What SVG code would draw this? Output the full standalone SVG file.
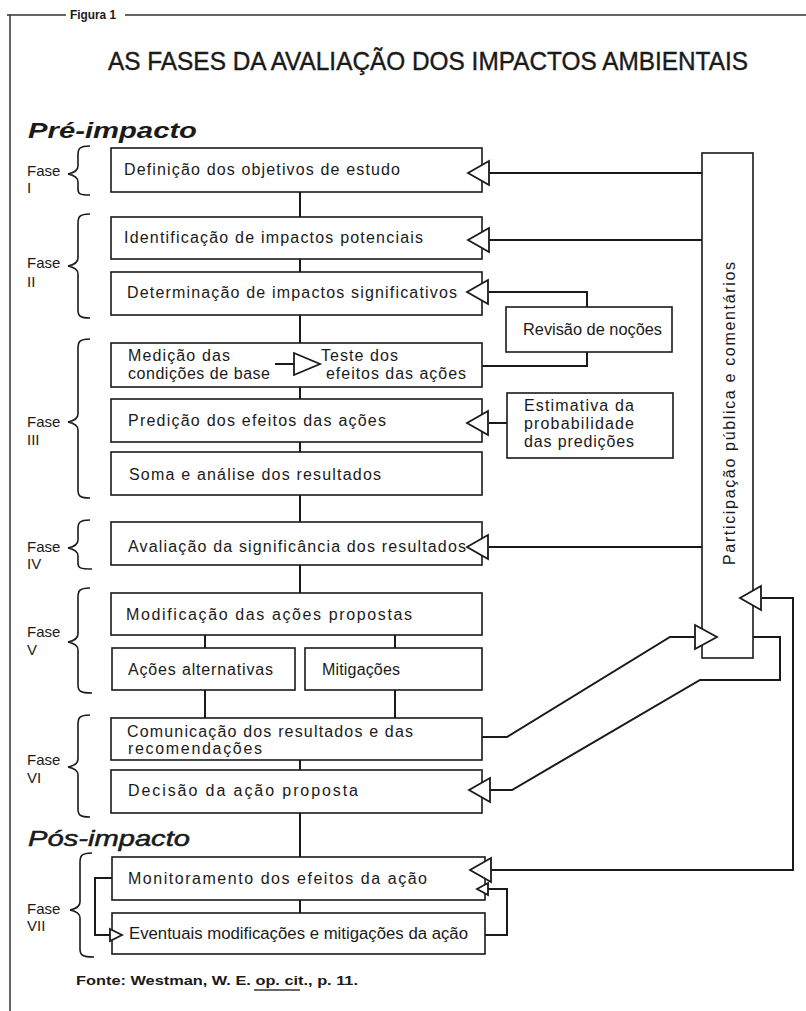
<svg xmlns="http://www.w3.org/2000/svg" xmlns:xlink="http://www.w3.org/1999/xlink" width="806" height="1011" viewBox="0 0 806 1011">
<style>
.box{fill:#fff;stroke:#1a1a1a;stroke-width:1.6}
.ln{fill:none;stroke:#1a1a1a;stroke-width:2}
.fr{fill:none;stroke:#333;stroke-width:1.5}
.ah{fill:#fff;stroke:#1a1a1a;stroke-width:1.8;stroke-linejoin:miter}
.br{fill:none;stroke:#1a1a1a;stroke-width:1.6}
.t{font-family:"Liberation Sans",Arial,sans-serif;font-size:16px;fill:#1a1a1a}
.f{font-family:"Liberation Sans",Arial,sans-serif;font-size:15px;fill:#1a1a1a}
.h{font-family:"Liberation Sans",Arial,sans-serif;font-size:22px;font-style:italic;font-weight:bold;fill:#1a1a1a}
.h2{font-family:"Liberation Sans",Arial,sans-serif;font-size:22px;font-style:italic;fill:#1a1a1a}
</style>
<defs>
<polygon id="aL" class="ah" points="0,0 21,-12 21,12"/>
<polygon id="aS" class="ah" points="0,0 11,-6 11,6"/>
</defs>

<g id="frame">
<path class="fr" d="M7,15 H66 M125,15 H806 M10,15 V1011"/>
<text x="70" y="19" font-family="Liberation Sans, Arial, sans-serif" font-size="12" font-weight="bold" fill="#1a1a1a" textLength="46" lengthAdjust="spacingAndGlyphs">Figura 1</text>
<text x="108" y="70" font-family="Liberation Sans, Arial, sans-serif" font-size="26" fill="#1a1a1a" stroke="#1a1a1a" stroke-width="0.4" textLength="640" lengthAdjust="spacingAndGlyphs">AS FASES DA AVALIAÇÃO DOS IMPACTOS AMBIENTAIS</text>
<text class="h" x="28" y="138" textLength="169" lengthAdjust="spacingAndGlyphs">Pré-impacto</text>
<text class="h2" x="28" y="846" stroke="#1a1a1a" stroke-width="0.5" textLength="162" lengthAdjust="spacingAndGlyphs">Pós-impacto</text>
<text x="76" y="985" font-family="Liberation Sans, Arial, sans-serif" font-size="13" font-weight="bold" fill="#1a1a1a" textLength="282" lengthAdjust="spacingAndGlyphs">Fonte: Westman, W. E. op. cit., p. 11.</text>
<path class="fr" d="M254,990 H300"/>
</g>

<g id="fases">
<g id="fase1"><text class="f" x="27" y="176">Fase</text><text class="f" x="27" y="193">I</text>
<path class="br" d="M90,146 C79,146 78,149 78,155 V166 Q78,172 68,174 Q78,176 78,182 V189 C78,194 80,195 90,195"/></g>
<g id="fase2"><text class="f" x="27" y="268">Fase</text><text class="f" x="27" y="287">II</text>
<path class="br" d="M90,214 C79,214 78,217 78,224 V258 Q78,264 68,266 Q78,268 78,274 V310 C78,316 80,318 90,318"/></g>
<g id="fase3"><text class="f" x="27" y="427">Fase</text><text class="f" x="27" y="445">III</text>
<path class="br" d="M90,339 C79,339 78,342 78,349 V414 Q78,420 68,422 Q78,424 78,430 V490 C78,496 80,498 90,498"/></g>
<g id="fase4"><text class="f" x="27" y="552">Fase</text><text class="f" x="27" y="569">IV</text>
<path class="br" d="M90,520 C79,520 78,523 78,529 V540 Q78,546 68,548 Q78,550 78,556 V563 C78,568 80,569 92,569"/></g>
<g id="fase5"><text class="f" x="27" y="637">Fase</text><text class="f" x="27" y="655">V</text>
<path class="br" d="M90,588 C79,588 78,591 78,598 V634 Q78,640 68,642 Q78,644 78,650 V685 C78,691 80,693 92,693"/></g>
<g id="fase6"><text class="f" x="27" y="765">Fase</text><text class="f" x="27" y="783">VI</text>
<path class="br" d="M90,715 C79,715 78,718 78,725 V759 Q78,765 68,767 Q78,769 78,775 V809 C78,815 80,817 90,817"/></g>
<g id="fase7"><text class="f" x="27" y="914">Fase</text><text class="f" x="27" y="931">VII</text>
<path class="br" d="M92,853 C81,853 80,856 80,863 V902 Q80,908 70,910 Q80,912 80,918 V949 C80,955 82,957 94,957"/></g>
</g>

<g id="n1"><rect class="box" x="111" y="148" width="371" height="44"/><text class="t" x="124" y="175" textLength="276" lengthAdjust="spacing">Definição dos objetivos de estudo</text></g>
<g id="n2"><rect class="box" x="111" y="217" width="371" height="42"/><text class="t" x="124" y="243" textLength="299" lengthAdjust="spacing">Identificação de impactos potenciais</text></g>
<g id="n3"><rect class="box" x="111" y="272" width="371" height="43"/><text class="t" x="127" y="298" textLength="330" lengthAdjust="spacing">Determinação de impactos significativos</text></g>
<g id="n4"><rect class="box" x="111" y="343" width="371" height="44"/>
<text class="t" x="128" y="361" textLength="102" lengthAdjust="spacing">Medição  das</text>
<text class="t" x="128" y="379" textLength="142" lengthAdjust="spacing">condições de base</text>
<text class="t" x="321" y="361" textLength="77" lengthAdjust="spacing">Teste dos</text>
<text class="t" x="326" y="379" textLength="140" lengthAdjust="spacing">efeitos das ações</text></g>
<g id="n5"><rect class="box" x="111" y="399" width="371" height="43"/><text class="t" x="128" y="426" textLength="258" lengthAdjust="spacing">Predição dos efeitos das ações</text></g>
<g id="n6"><rect class="box" x="111" y="452" width="371" height="43"/><text class="t" x="129" y="480" textLength="252" lengthAdjust="spacing">Soma e análise  dos resultados</text></g>
<g id="n7"><rect class="box" x="111" y="522" width="371" height="43"/><text class="t" x="128" y="552" textLength="338" lengthAdjust="spacing">Avaliação da significância dos resultados</text></g>
<g id="n8"><rect class="box" x="111" y="593" width="371" height="42"/><text class="t" x="126" y="620" textLength="286" lengthAdjust="spacing">Modificação das ações propostas</text></g>
<g id="n9a"><rect class="box" x="112" y="648" width="183" height="42"/><text class="t" x="128" y="675" textLength="145" lengthAdjust="spacing">Ações alternativas</text></g>
<g id="n9b"><rect class="box" x="305" y="648" width="177" height="42"/><text class="t" x="322" y="675" textLength="78" lengthAdjust="spacing">Mitigações</text></g>
<g id="n10"><rect class="box" x="111" y="718" width="371" height="42"/>
<text class="t" x="127" y="737" textLength="286" lengthAdjust="spacing">Comunicação dos resultados e das</text>
<text class="t" x="128" y="754" textLength="134" lengthAdjust="spacing">recomendações</text></g>
<g id="n11"><rect class="box" x="111" y="770" width="371" height="43"/><text class="t" x="128" y="796" textLength="230" lengthAdjust="spacing">Decisão da ação proposta</text></g>
<g id="n12"><rect class="box" x="112" y="857" width="373" height="43"/><text class="t" x="128" y="884" textLength="299" lengthAdjust="spacing">Monitoramento dos efeitos da ação</text></g>
<g id="n13"><rect class="box" x="112" y="913" width="373" height="41"/><text class="t" x="129" y="939" textLength="339" lengthAdjust="spacingAndGlyphs">Eventuais modificações e mitigações da ação</text></g>
<g id="revisao"><rect class="box" x="506" y="307" width="166" height="45"/><text class="t" x="523" y="335" textLength="139" lengthAdjust="spacingAndGlyphs">Revisão de noções</text></g>
<g id="estimativa"><rect class="box" x="507" y="393" width="166" height="65"/>
<text class="t" x="524" y="411" textLength="110" lengthAdjust="spacing">Estimativa da</text>
<text class="t" x="524" y="429" textLength="110" lengthAdjust="spacing">probabilidade</text>
<text class="t" x="524" y="447" textLength="110" lengthAdjust="spacing">das predições</text></g>
<g id="participacao"><rect class="box" x="702" y="153" width="51" height="505"/>
<text class="t" transform="translate(735,565) rotate(-90)" textLength="303" lengthAdjust="spacing">Participação pública e comentários</text></g>

<g id="connectors">
<path class="ln" d="M300,192 V217 M300,259 V272 M300,315 V343 M300,387 V399 M300,442 V452 M300,495 V522 M300,565 V593 M205,635 V648 M395,635 V648 M205,690 V718 M395,690 V718 M300,760 V770 M300,813 V857 M300,900 V913"/>
<path class="ln" d="M702,173 H489 M702,240 H489 M702,547 H489"/>
<path class="ln" d="M489,292 H587 V307 M587,352 V366 H482"/>
<path class="ln" d="M507,423 H489"/>
<path class="ln" d="M482,737 H507 L670,637 H695"/>
<path class="ln" d="M753,637 H780 V680 H700 L512,790 H490"/>
<path class="ln" d="M490,870 H793 V598 H762"/>
<path class="ln" d="M112,878 H95 V935 H110"/>
<path class="ln" d="M485,935 H507 V889 H488"/>
<path class="ln" d="M275,364 H294"/>
<polygon class="ah" points="294,353 320,364 294,375"/>
<use xlink:href="#aL" x="468" y="173"/>
<use xlink:href="#aL" x="468" y="240"/>
<use xlink:href="#aL" x="467" y="292"/>
<use xlink:href="#aL" x="467" y="423"/>
<use xlink:href="#aL" x="467" y="547"/>
<use xlink:href="#aL" x="469" y="790"/>
<use xlink:href="#aL" x="470" y="870"/>
<use xlink:href="#aL" x="740" y="598"/>
<polygon class="ah" points="695,625 717,637 695,649"/>
<use xlink:href="#aS" x="477" y="889"/>
<polygon class="ah" points="110,929 122,935 110,941"/>
</g>
</svg>
